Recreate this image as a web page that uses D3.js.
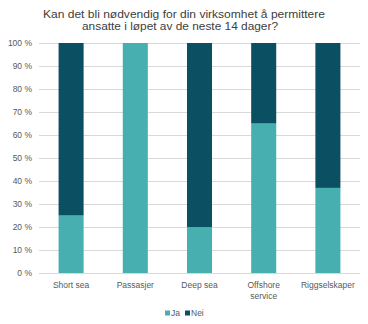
<!DOCTYPE html>
<html><head><meta charset="utf-8">
<script src="https://cdn.jsdelivr.net/npm/d3@7"></script>
<style>body{margin:0;background:#fff}svg{display:block}</style>
</head><body>
<svg id="c" width="368" height="324"></svg>
<script>
const categories = ["Short sea", "Passasjer", "Deep sea", "Offshore service", "Riggselskaper"];
const labelLines = [["Short sea"], ["Passasjer"], ["Deep sea"], ["Offshore", "service"], ["Riggselskaper"]];
const ja = [25, 100, 20, 65, 37];
const nei = [75, 0, 80, 35, 63];
const yTicks = [0, 10, 20, 30, 40, 50, 60, 70, 80, 90, 100];
const seriesNames = ["Ja", "Nei"];
const colors = ["#47AFB0", "#0B4F63"];
const titleLines = ["Kan det bli nødvendig for din virksomhet å permittere", "ansatte i løpet av de neste 14 dager?"];

const svg = d3.select("#c");
const font = "'Liberation Sans', Arial, sans-serif";
const m = {l: 39, r: 8, t: 43, b: 51};
const W = 368, H = 324;
const x = d3.scaleBand().domain(categories).range([m.l, W - m.r]).paddingInner(0.61).paddingOuter(0.305);
const y = d3.scaleLinear().domain([0, 100]).range([H - m.b, m.t]);

const titleBox = [{x: 43, y: 18, w: 282}, {x: 82, y: 29.5, w: 196}];
titleLines.forEach((t, i) => {
  svg.append("text").attr("x", titleBox[i].x).attr("y", titleBox[i].y)
    .attr("font-family", font).attr("font-size", 11.5).attr("fill", "#404040")
    .attr("textLength", titleBox[i].w).attr("lengthAdjust", "spacingAndGlyphs")
    .text(t);
});

// gridlines
svg.append("g").selectAll("line").data(yTicks).join("line")
  .attr("x1", m.l).attr("x2", W - m.r)
  .attr("y1", d => Math.round(y(d)) + 0.5).attr("y2", d => Math.round(y(d)) + 0.5)
  .attr("stroke", "#D9D9D9").attr("stroke-width", 1);

// y axis labels
const yAxis = d3.axisLeft(y).tickValues(yTicks).tickFormat(d => d + " %").tickSize(0).tickPadding(7);
const yg = svg.append("g").attr("transform", `translate(${m.l},0)`).call(yAxis);
yg.select(".domain").remove();
yg.selectAll("text").attr("font-family", font).attr("font-size", 8.5).attr("fill", "#595959");

// bars
const stackData = categories.map((c, i) => ({cat: c, Ja: ja[i], Nei: nei[i]}));
const stack = d3.stack().keys(seriesNames)(stackData);
svg.append("g").selectAll("g").data(stack).join("g")
  .attr("fill", (d, i) => colors[i])
  .selectAll("rect").data(d => d).join("rect")
  .attr("x", d => x(d.data.cat)).attr("width", x.bandwidth())
  .attr("y", d => y(d[1])).attr("height", d => y(d[0]) - y(d[1]));

// x labels
const xg = svg.append("g");
categories.forEach((c, i) => {
  const t = xg.append("text").attr("x", x(c) + x.bandwidth() / 2).attr("y", H - m.b + 15)
    .attr("text-anchor", "middle").attr("font-family", font).attr("font-size", 8.5).attr("fill", "#595959");
  labelLines[i].forEach((l, j) => t.append("tspan").attr("x", x(c) + x.bandwidth() / 2).attr("dy", j ? 11 : 0).text(l));
});

// legend
const legendX = [165, 185];
const lg = svg.append("g").attr("transform", "translate(0,316)");
seriesNames.forEach((s, i) => {
  lg.append("rect").attr("x", legendX[i]).attr("y", -5.5).attr("width", 5).attr("height", 5).attr("fill", colors[i]);
  lg.append("text").attr("x", legendX[i] + 6).attr("y", 0).attr("font-family", font).attr("font-size", 8.5).attr("fill", "#595959").text(s);
});
</script>
</body></html>
